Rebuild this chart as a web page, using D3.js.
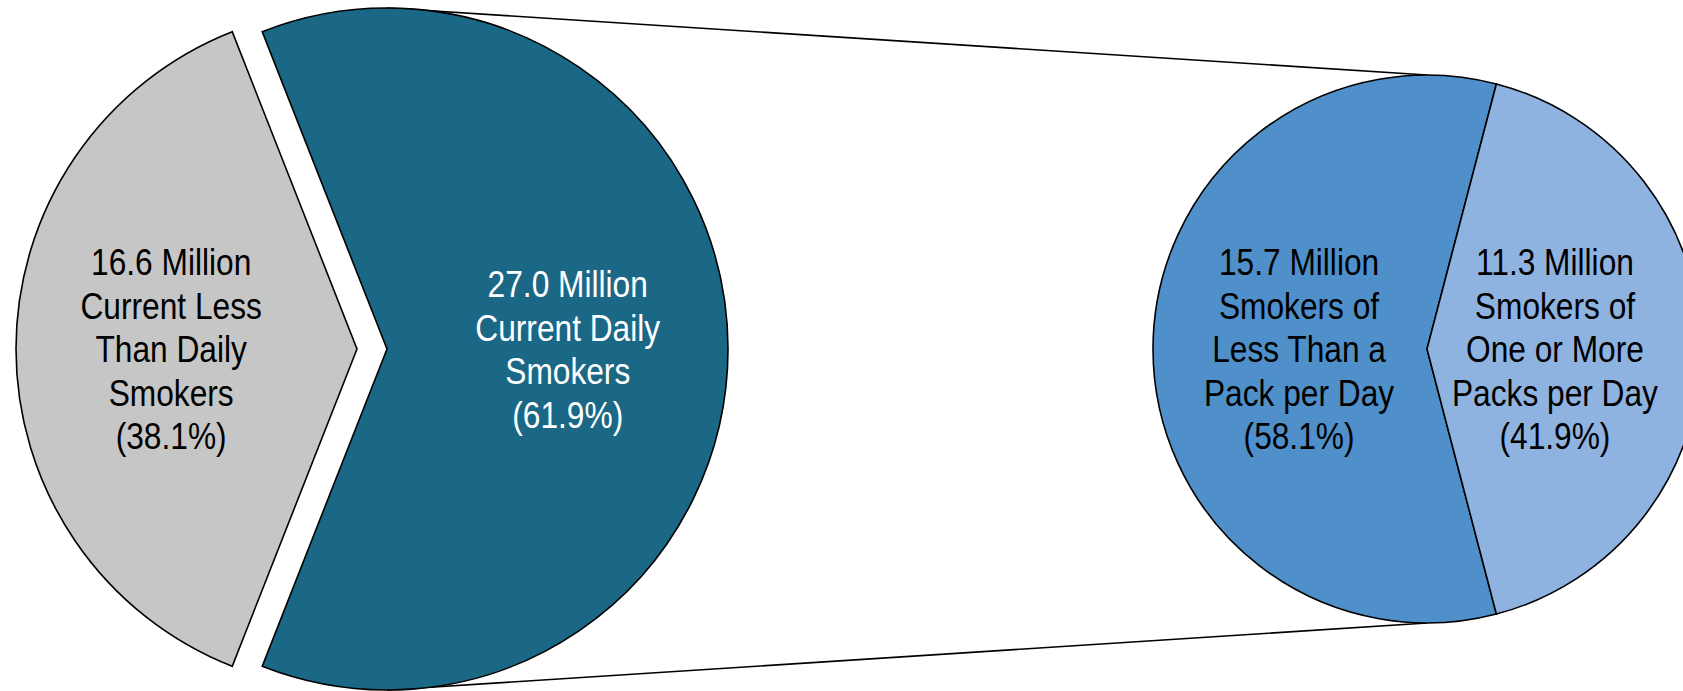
<!DOCTYPE html>
<html>
<head>
<meta charset="utf-8">
<script src="https://cdn.jsdelivr.net/npm/d3@7"></script>
<style>
  html, body { margin: 0; padding: 0; background: #ffffff; overflow: hidden; }
  svg { display: block; }
  text { font-family: "Liberation Sans", Arial, sans-serif; }
</style>
</head>
<body>
<svg id="chart" width="1683" height="691"></svg>
<script>
// ---- Data ----
const leftCategories = ["Current Less Than Daily Smokers", "Current Daily Smokers"];
const leftValues = [16.6, 27.0];          // millions
const leftPercents = ["38.1%", "61.9%"];
const leftLabelLines = [
  ["16.6 Million", "Current Less", "Than Daily", "Smokers", "(38.1%)"],
  ["27.0 Million", "Current Daily", "Smokers", "(61.9%)"]
];

const rightCategories = ["Smokers of Less Than a Pack per Day", "Smokers of One or More Packs per Day"];
const rightValues = [15.7, 11.3];         // millions
const rightPercents = ["58.1%", "41.9%"];
const rightLabelLines = [
  ["15.7 Million", "Smokers of", "Less Than a", "Pack per Day", "(58.1%)"],
  ["11.3 Million", "Smokers of", "One or More", "Packs per Day", "(41.9%)"]
];

// ---- Styling ----
const leftColors = ["#c6c6c6", "#1b6886"];
const leftTextColors = ["#000000", "#ffffff"];
const rightColors = ["#4f90cb", "#8fb3e0"];
const rightTextColors = ["#000000", "#000000"];

const svg = d3.select("#chart");

// ---- Geometry ----
const L = { cx: 372, cy: 349, r: 341, explode: 15, labelR: [0.545, 0.53] };
const R = { cx: 1427, cy: 349, r: 274, labelR: [0.467, 0.467] };
const fontSize = 37.5, lineH = 43.5, capH = 0.716 * 37.5, squeeze = 0.845;

const leftTotal = d3.sum(leftValues);
const rightTotal = d3.sum(rightValues);

// gray slice centred at 9 o'clock, daily slice centred at 3 o'clock
const leftStart = 1.5 * Math.PI - (leftValues[0] / leftTotal) * Math.PI;
const leftPie = d3.pie().sort(null).value(d => d)
  .startAngle(leftStart).endAngle(leftStart + 2 * Math.PI);
// light slice centred at 3 o'clock
const rightStart = 0.5 * Math.PI + (rightValues[1] / rightTotal) * Math.PI;
const rightPie = d3.pie().sort(null).value(d => d)
  .startAngle(rightStart).endAngle(rightStart + 2 * Math.PI);

const leftArcs = leftPie(leftValues);
const rightArcs = rightPie(rightValues);

const arcL = d3.arc().innerRadius(0).outerRadius(L.r);
const arcR = d3.arc().innerRadius(0).outerRadius(R.r);
function labelPos(d, r) {
  return d3.arc().innerRadius(r).outerRadius(r).centroid(d);
}

function explodeOffset(d, dist) {
  const a = (d.startAngle + d.endAngle) / 2;
  return [Math.sin(a) * dist, -Math.cos(a) * dist];
}

// ---- Connector lines (from top/bottom of the daily slice to the second pie) ----
const dailyOff = explodeOffset(leftArcs[1], L.explode);
const connectors = [
  [[L.cx + dailyOff[0], L.cy - L.r], [R.cx, R.cy - R.r]],
  [[L.cx + dailyOff[0], L.cy + L.r], [R.cx, R.cy + R.r]]
];
svg.append("g").selectAll("line").data(connectors).join("line")
  .attr("x1", d => d[0][0]).attr("y1", d => d[0][1])
  .attr("x2", d => d[1][0]).attr("y2", d => d[1][1])
  .attr("stroke", "#000").attr("stroke-width", 1.6);

// ---- Left pie ----
const gL = svg.append("g").attr("transform", `translate(${L.cx},${L.cy})`);
const leftSlices = gL.selectAll("g.slice").data(leftArcs).join("g")
  .attr("class", "slice")
  .attr("transform", d => { const o = explodeOffset(d, L.explode); return `translate(${o[0]},${o[1]})`; });
leftSlices.append("path")
  .attr("d", arcL)
  .attr("fill", (d, i) => leftColors[i])
  .attr("stroke", "#000").attr("stroke-width", 1.6).attr("stroke-linejoin", "miter");

function addLabel(sel, lines, color, pos) {
  const n = lines.length;
  const y0 = -((n - 1) / 2) * lineH + capH / 2;
  const t = sel.append("text")
    .attr("transform", `translate(${pos[0]},${pos[1]}) scale(${squeeze},1)`)
    .attr("text-anchor", "middle")
    .attr("font-size", fontSize)
    .attr("fill", color);
  lines.forEach((ln, k) => {
    t.append("tspan").attr("x", 0).attr("y", y0 + k * lineH).text(ln);
  });
}

leftSlices.each(function(d, i) {
  addLabel(d3.select(this), leftLabelLines[i], leftTextColors[i], labelPos(d, L.r * L.labelR[i]));
});

// ---- Right pie ----
const gR = svg.append("g").attr("transform", `translate(${R.cx},${R.cy})`);
const rightSlices = gR.selectAll("g.slice").data(rightArcs).join("g").attr("class", "slice");
rightSlices.append("path")
  .attr("d", arcR)
  .attr("fill", (d, i) => rightColors[i])
  .attr("stroke", "#000").attr("stroke-width", 1.6);
rightSlices.each(function(d, i) {
  addLabel(d3.select(this), rightLabelLines[i], rightTextColors[i], labelPos(d, R.r * R.labelR[i]));
});
</script>
</body>
</html>
